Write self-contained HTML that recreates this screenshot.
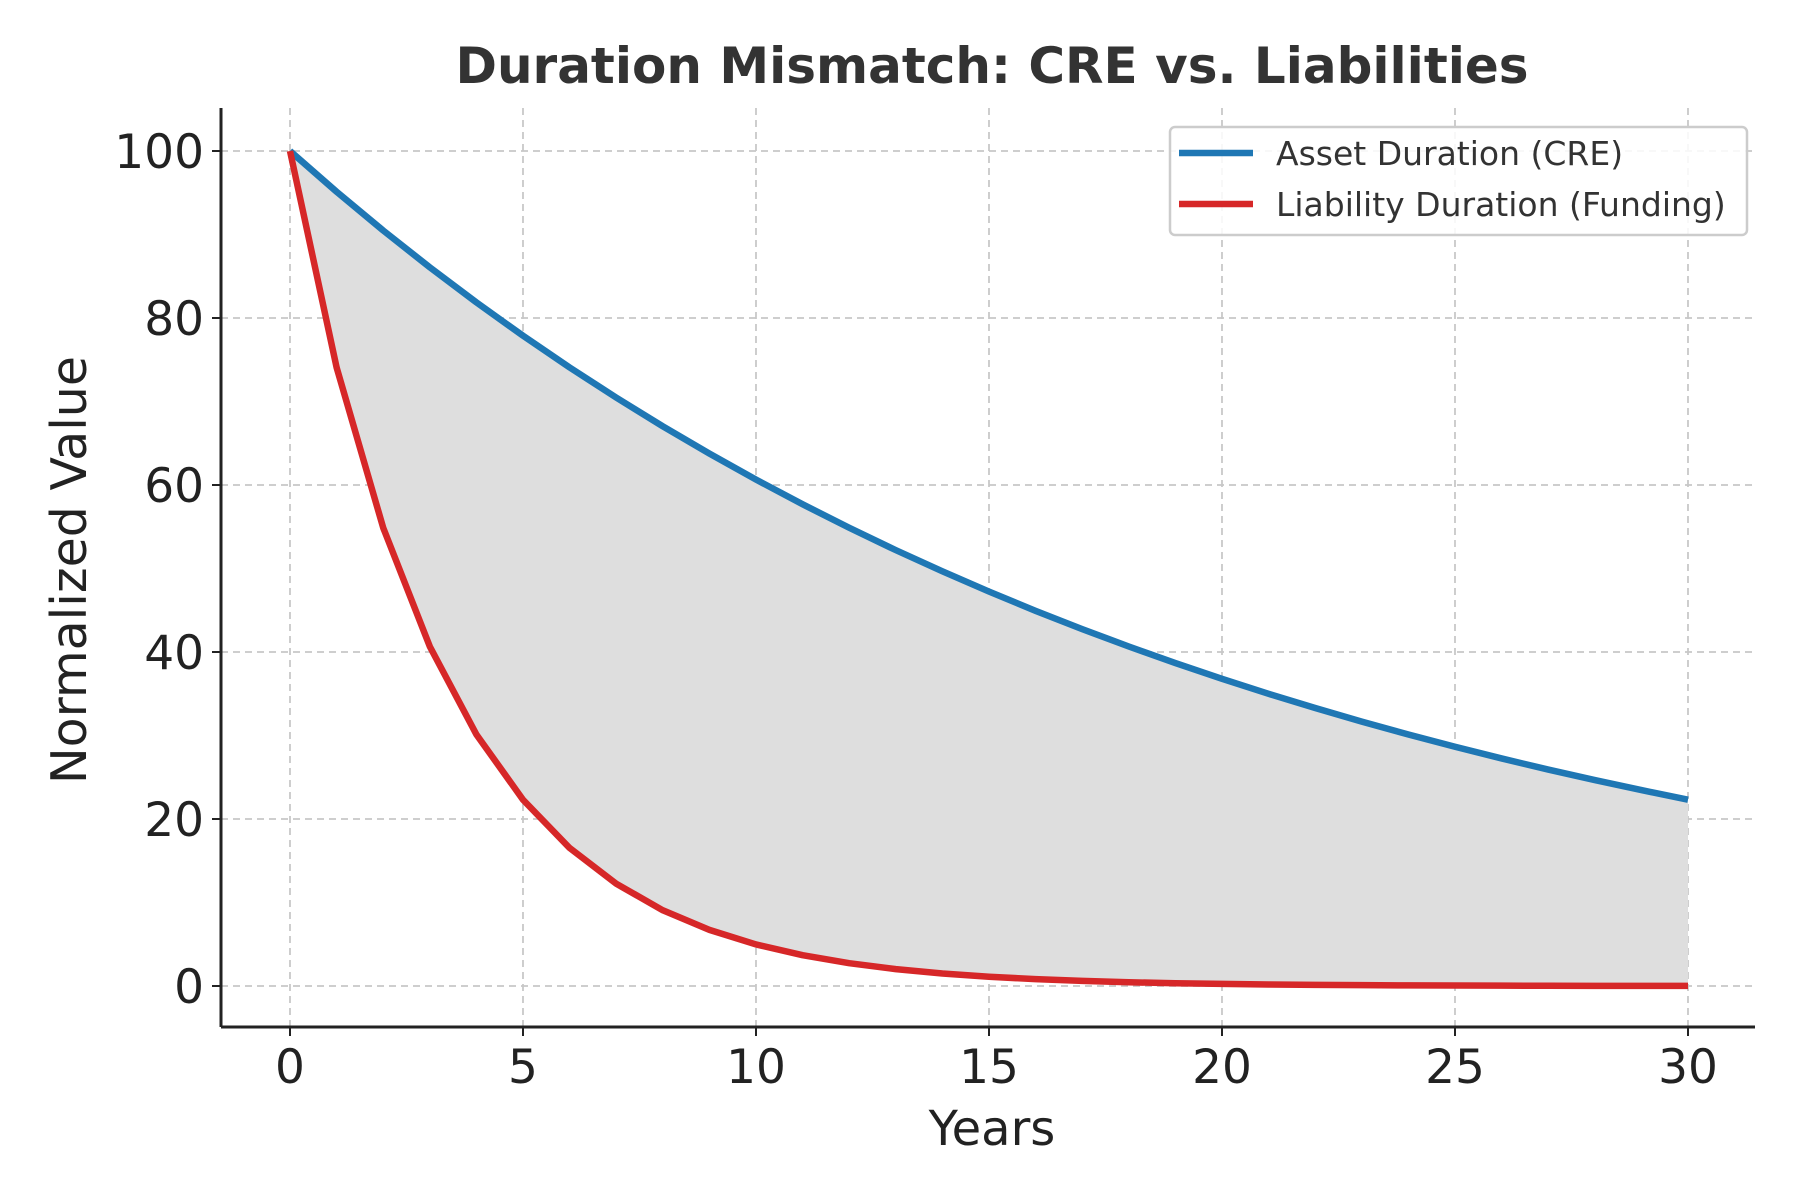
<!DOCTYPE html>
<html><head><meta charset="utf-8"><style>
html,body{margin:0;padding:0;background:#fff;}
svg{display:block;font-family:"DejaVu Sans","Liberation Sans",sans-serif;}
</style></head><body>
<svg id="chart" width="1800" height="1200" viewBox="0 0 1800 1200">
<text x="992" y="83" text-anchor="middle" font-size="50" font-weight="bold" fill="#333">Duration Mismatch: CRE vs. Liabilities</text>
<g id="grid"></g>
<path id="gap" fill="#dedede"></path>
<path id="asset" fill="none" stroke="#1f77b4" stroke-width="6.5" stroke-linejoin="round"></path>
<path id="liab" fill="none" stroke="#d62728" stroke-width="6.5" stroke-linejoin="round"></path>
<line x1="221" y1="1027" x2="1755" y2="1027" stroke="#222" stroke-width="3"/>
<line x1="221" y1="108" x2="221" y2="1027" stroke="#222" stroke-width="3"/>
<g id="ticks"></g>
<text x="992" y="1145" text-anchor="middle" font-size="48" fill="#222">Years</text>
<text transform="translate(86,570) rotate(-90)" text-anchor="middle" font-size="49" fill="#222">Normalized Value</text>
<g>
<rect x="1170" y="127" width="577" height="108" rx="5" fill="#fff" fill-opacity="0.85" stroke="#ccc" stroke-width="2.5"/>
<line x1="1179" y1="153" x2="1253" y2="153" stroke="#1f77b4" stroke-width="6.5"/>
<text x="1276" y="165" font-size="33" fill="#333">Asset Duration (CRE)</text>
<line x1="1179" y1="204" x2="1253" y2="204" stroke="#d62728" stroke-width="6.5"/>
<text x="1276" y="216" font-size="33" fill="#333">Liability Duration (Funding)</text>
</g>
</svg>
<script>
const years = [0,1,2,3,4,5,6,7,8,9,10,11,12,13,14,15,16,17,18,19,20,21,22,23,24,25,26,27,28,29,30];
const assetValues = [100,95.12,90.48,86.07,81.87,77.88,74.08,70.47,67.03,63.76,60.65,57.69,54.88,52.20,49.66,47.24,44.93,42.74,40.66,38.67,36.79,34.99,33.29,31.66,30.12,28.65,27.25,25.92,24.66,23.46,22.31];
const liabilityValues = [100,74.08,54.88,40.66,30.12,22.31,16.53,12.25,9.07,6.72,4.98,3.69,2.73,2.02,1.50,1.11,0.82,0.61,0.45,0.33,0.25,0.18,0.14,0.10,0.07,0.06,0.04,0.03,0.02,0.02,0.01];
const xTicks = [0,5,10,15,20,25,30];
const yTicks = [0,20,40,60,80,100];

const X0=290, X1=1688, Y0=986, Y1=151;
const sx = v => X0 + (v-0)/(30-0)*(X1-X0);
const sy = v => Y0 - (v-0)/(100-0)*(Y0-Y1);
const NS="http://www.w3.org/2000/svg";
const grid=document.getElementById('grid'), ticks=document.getElementById('ticks');
function mk(tag,attrs,parent){const e=document.createElementNS(NS,tag);for(const k in attrs)e.setAttribute(k,attrs[k]);parent.appendChild(e);return e;}
xTicks.forEach(t=>{
  const g=mk('line',{x1:sx(t),x2:sx(t),y1:108,y2:1027,stroke:'#c8c8c8','stroke-width':1.8,'stroke-dasharray':'7,5'},grid);
  
  
  const tk=mk('line',{x1:sx(t),x2:sx(t),y1:1027,y2:1036,stroke:'#222','stroke-width':2},ticks);
  
  
  const tx=mk('text',{x:sx(t),y:1083,'text-anchor':'middle','font-size':47,fill:'#222'},ticks);
  tx.textContent=t;
  
  
});
yTicks.forEach(t=>{
  const g=mk('line',{x1:221,x2:1755,y1:sy(t),y2:sy(t),stroke:'#c8c8c8','stroke-width':1.8,'stroke-dasharray':'7,5'},grid);
  
  
  const tk=mk('line',{x1:212,x2:221,y1:sy(t),y2:sy(t),stroke:'#222','stroke-width':2},ticks);
  
  
  const tx=mk('text',{x:204,y:sy(t)+17,'text-anchor':'end','font-size':47,fill:'#222'},ticks);
  tx.textContent=t;
  
  
});
const pa=years.map((y,i)=>sx(y)+','+sy(assetValues[i]));
const pl=years.map((y,i)=>sx(y)+','+sy(liabilityValues[i]));
document.getElementById('asset').setAttribute('d','M'+pa.join('L'));
document.getElementById('liab').setAttribute('d','M'+pl.join('L'));
document.getElementById('gap').setAttribute('d','M'+pa.join('L')+'L'+pl.slice().reverse().join('L')+'Z');
</script>
</body></html>
